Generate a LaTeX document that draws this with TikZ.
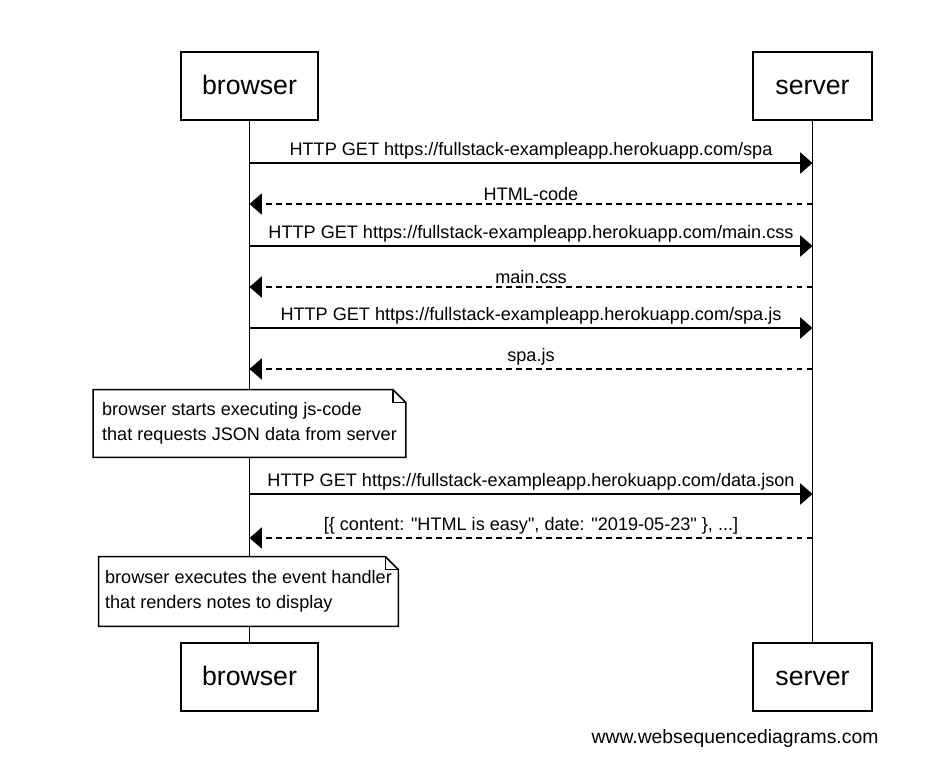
\documentclass[tikz,border=0pt]{standalone}
\usepackage{fontspec}
\setmainfont{Liberation Sans}
\newfontfamily\wsdfont{Liberation Sans}
\usetikzlibrary{positioning}
\usetikzlibrary{calc}
\usetikzlibrary{arrows.meta}

\tikzset{
  actor/.style={draw, line width=0.9pt, minimum height=1.36cm, text height=0.98em, text depth=0pt, font=\wsdfont\fontsize{15.2}{18}\selectfont},
  msg/.style={line width=0.9pt, -{Triangle[length=7pt,width=12pt]}},
  reply/.style={msg, dash pattern=on 3.4pt off 2.3pt},
  lbl/.style={above, inner sep=1.5pt, font=\wsdfont\fontsize{10.3}{13}\selectfont},
  notebox/.style={fill=white, align=left, inner xsep=3pt, font=\wsdfont\fontsize{10.3}{14.5}\selectfont}
}

\begin{document}
\begin{tikzpicture}[x=0.02cm, y=-0.02cm]
	\useasboundingbox (0,0) rectangle (927,771);
	% participants
	\node[actor, minimum width=2.74cm] (browser) at (249.5,86) {browser};
	\node[actor, minimum width=2.38cm] (server) at (812.5,86) {server};
	\node[actor, minimum width=2.74cm] (browser2) at (249.5,677) {browser};
	\node[actor, minimum width=2.38cm] (server2) at (812.5,677) {server};
	% lifelines
	\draw[line width=0.9pt] (browser) -- (browser2);
	\draw[line width=0.9pt] (server) -- (server2);
	% message levels
	\foreach \i/\y in {1/163,2/204,3/246,4/287,5/328,6/369,7/494,8/538}{
		\coordinate (b\i) at (249.5,\y);
		\coordinate (s\i) at (812.5,\y);
	}
	\draw[msg] (b1) -- node[lbl]{HTTP GET https://fullstack-exampleapp.herokuapp.com/spa} (s1);
	\draw[reply] (s2) -- node[lbl]{HTML-code} (b2);
	\draw[msg] (b3) -- node[lbl]{HTTP GET https://fullstack-exampleapp.herokuapp.com/main.css} (s3);
	\draw[reply] (s4) -- node[lbl]{main.css} (b4);
	\draw[msg] (b5) -- node[lbl]{HTTP GET https://fullstack-exampleapp.herokuapp.com/spa.js} (s5);
	\draw[reply] (s6) -- node[lbl]{spa.js} (b6);
	\draw[msg] (b7) -- node[lbl]{HTTP GET https://fullstack-exampleapp.herokuapp.com/data.json} (s7);
	\draw[reply] (s8) -- node[lbl]{[\{ content: "HTML is easy", date: "2019-05-23" \}, ...]} (b8);
	% notes
	\node[notebox, minimum width=6.24cm, minimum height=1.34cm] (note1) at (249.5,423.5) {browser starts executing js-code\\that requests JSON data from server};
	\node[notebox, minimum width=5.98cm, minimum height=1.38cm] (note2) at (248.5,591.5) {browser executes the event handler\\that renders notes to display};
	\foreach \n in {note1,note2}{
		\draw[line width=0.9pt] (\n.south west) -- (\n.north west) -- ($(\n.north east)+(-13,0)$) -- ($(\n.north east)+(0,13)$) -- (\n.south east) -- cycle;
		\draw[line width=0.9pt] ($(\n.north east)+(-13,0)$) |- ($(\n.north east)+(0,13)$);
	}
	\node[font=\wsdfont\fontsize{11}{13}\selectfont] (credit) at (735,738) {www.websequencediagrams.com};
\end{tikzpicture}
\end{document}
